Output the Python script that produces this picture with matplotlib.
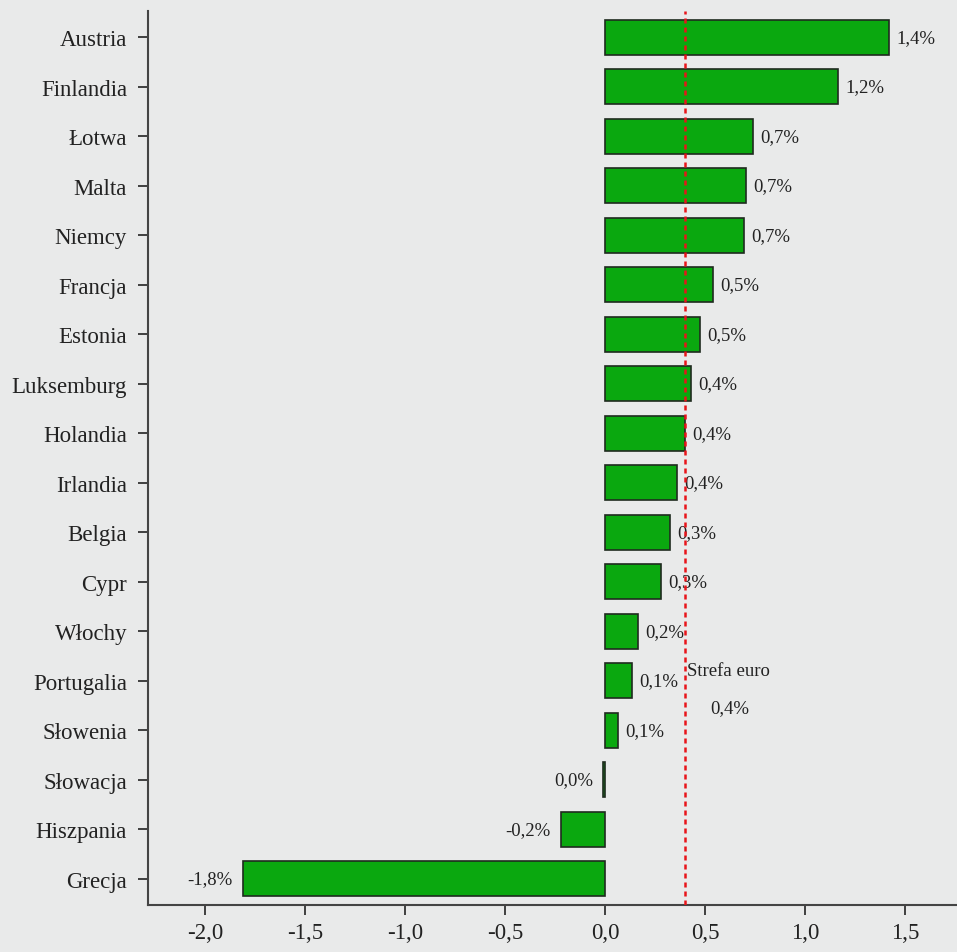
import matplotlib
matplotlib.use("Agg")
import matplotlib.pyplot as plt

countries = ["Austria", "Finlandia", "Łotwa", "Malta", "Niemcy", "Francja", "Estonia",
             "Luksemburg", "Holandia", "Irlandia", "Belgia", "Cypr", "Włochy",
             "Portugalia", "Słowenia", "Słowacja", "Hiszpania", "Grecja"]
values = [1.42, 1.165, 0.74, 0.705, 0.695, 0.54, 0.475, 0.43, 0.40, 0.36, 0.325,
          0.28, 0.165, 0.135, 0.065, -0.01, -0.22, -1.81]
value_labels = ["1,4%", "1,2%", "0,7%", "0,7%", "0,7%", "0,5%", "0,5%", "0,4%", "0,4%",
                "0,4%", "0,3%", "0,3%", "0,2%", "0,1%", "0,1%", "0,0%", "-0,2%", "-1,8%"]
euro_value = 0.4
euro_text = "Strefa euro"
euro_label = "0,4%"
xticks = [-2.0, -1.5, -1.0, -0.5, 0.0, 0.5, 1.0, 1.5]
xtick_labels = ["-2,0", "-1,5", "-1,0", "-0,5", "0,0", "0,5", "1,0", "1,5"]

plt.rcParams['font.family'] = ['Liberation Serif', 'DejaVu Serif']
bg = "#e9eaea"
fig = plt.figure(figsize=(9.57, 9.53), dpi=100, facecolor=bg)
ax = fig.add_axes([148/957, 1-906/953, 1-148/957, (906-12)/953])
ax.set_facecolor(bg)

y = list(range(len(countries)))
ax.barh(y, values, height=0.71, color="#0aa80f", edgecolor="#1f2a1f", linewidth=1.2, zorder=2)
ax.set_ylim(len(countries)-0.47, -0.53)
ax.set_xlim(-2.285, 1.76)

for yi, v, lab in zip(y, values, value_labels):
    if v >= 0:
        ax.annotate(lab, (v, yi), xytext=(7, 0), textcoords="offset pixels",
                    ha="left", va="center", fontsize=13.5, color="#222222", zorder=3)
    else:
        ax.annotate(lab, (v, yi), xytext=(-10, 0), textcoords="offset pixels",
                    ha="right", va="center", fontsize=13.5, color="#222222", zorder=3)

ax.axvline(euro_value, color="#e8141a", linestyle=(0, (2, 1.6)), linewidth=1.8, zorder=3)
ax.text(0.41, 12.8, euro_text, ha="left", va="center", fontsize=13.5, color="#222222")
ax.text(0.625, 13.55, euro_label, ha="center", va="center", fontsize=13.5, color="#222222")

ax.set_yticks(y)
ax.set_yticklabels(countries, fontsize=16.5, color="#222222")
ax.set_xticks(xticks)
ax.set_xticklabels(xtick_labels, fontsize=16.5, color="#222222")
ax.tick_params(axis="y", length=7, width=1.3, pad=8, color="#333333")
ax.tick_params(axis="x", length=7, width=1.3, pad=5, color="#333333")
for s in ["top", "right"]:
    ax.spines[s].set_visible(False)
for s in ["left", "bottom"]:
    ax.spines[s].set_color("#444444")
    ax.spines[s].set_linewidth(1.5)

fig.savefig("out.png", dpi=100, facecolor=bg)
